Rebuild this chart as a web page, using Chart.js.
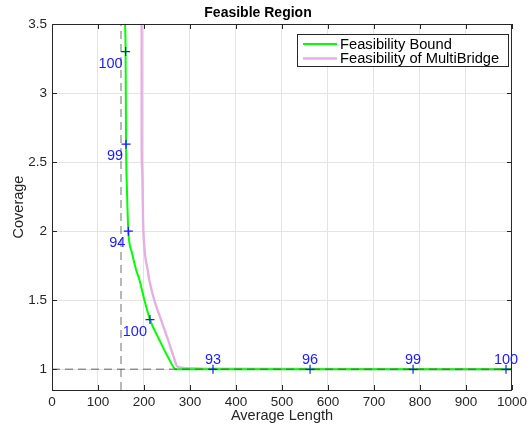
<!DOCTYPE html>
<html>
<head>
<meta charset="utf-8">
<script src="https://cdn.jsdelivr.net/npm/chart.js@4"></script>
<style>
  html, body { margin: 0; padding: 0; background: #ffffff; }
  canvas { display: block; }
</style>
</head>
<body>
<canvas id="c" width="531" height="429"></canvas>
<script>
// ---------------- data ----------------
const chartTitle = 'Feasible Region';
const xAxisTitle = 'Average Length';
const yAxisTitle = 'Coverage';
const seriesNames = ['Feasibility Bound', 'Feasibility of MultiBridge'];

const xTickValues = [0, 100, 200, 300, 400, 500, 600, 700, 800, 900, 1000];
const yTickValues = [1, 1.5, 2, 2.5, 3, 3.5];
const xRange = [0, 1000];
const yRange = [0.85, 3.5];

const boundLength   = [158.5, 159, 160, 161, 163, 166, 174, 182.7, 190, 200.6, 213, 233, 251, 270, 1000];
const boundCoverage = [3.6, 3.5, 3.3, 2.63, 2.3, 2.0, 1.842, 1.722, 1.649, 1.505, 1.36, 1.216, 1.096, 1.0, 1.0];

const multiLength   = [194.8, 195, 196, 197, 198, 202, 208, 211.4, 222, 236.7, 252, 264, 272.5, 300, 350, 1000];
const multiCoverage = [3.6, 2.6, 2.45, 2.3, 2.08, 1.842, 1.72, 1.649, 1.505, 1.361, 1.216, 1.096, 1.02, 1.008, 1.004, 1.0];

const markerLength   = [160, 161, 166, 213, 350, 561, 785, 987];
const markerCoverage = [3.3, 2.63, 2.0, 1.36, 1, 1, 1, 1];
const markerLabels   = ['100', '99', '94', '100', '93', '96', '99', '100'];

const thresholdLength = 150;
const thresholdCoverage = 1;

// ---------------- helpers ----------------
const pts = (xs, ys) => xs.map((x, i) => ({ x: x, y: ys[i] }));
const FONT = '"Liberation Sans", Arial, Helvetica, sans-serif';
const AXIS_COLOR = '#262626';
const GREEN = '#00ff00';
const PINK = 'rgb(228,176,226)';
const BLUE = '#1a1aff';
const DASH = 'rgba(70,70,70,0.55)';

const decorPlugin = {
  id: 'decor',
  afterDatasetsDraw(chart) {
    const ctx = chart.ctx;
    const xs = chart.scales.x, ys = chart.scales.y;
    const a = chart.chartArea;
    ctx.save();
    // top & right border
    ctx.strokeStyle = AXIS_COLOR;
    ctx.lineWidth = 1;
    ctx.beginPath();
    ctx.moveTo(a.left, a.top + 0.5); ctx.lineTo(a.right, a.top + 0.5);
    ctx.moveTo(a.right - 0.5, a.top); ctx.lineTo(a.right - 0.5, a.bottom);
    ctx.stroke();
    // inward ticks
    ctx.beginPath();
    xs.ticks.forEach(t => {
      const px = Math.round(xs.getPixelForValue(t.value)) + 0.5;
      ctx.moveTo(px, a.bottom); ctx.lineTo(px, a.bottom - 5);
      ctx.moveTo(px, a.top); ctx.lineTo(px, a.top + 5);
    });
    ys.ticks.forEach(t => {
      const py = Math.round(ys.getPixelForValue(t.value)) + 0.5;
      ctx.moveTo(a.left, py); ctx.lineTo(a.left + 5, py);
      ctx.moveTo(a.right, py); ctx.lineTo(a.right - 5, py);
    });
    ctx.stroke();

    // marker labels
    ctx.fillStyle = BLUE;
    ctx.font = '14.5px ' + FONT;
    markerLabels.forEach((lab, i) => {
      const px = xs.getPixelForValue(markerLength[i]);
      const py = ys.getPixelForValue(markerCoverage[i]);
      ctx.textBaseline = 'alphabetic';
      if (markerCoverage[i] === thresholdCoverage) {
        ctx.textAlign = 'center';
        ctx.fillText(lab, px, py - 5);
      } else {
        ctx.textAlign = 'right';
        ctx.fillText(lab, px - 3, py + 16);
      }
    });

    // legend
    const lx = 297, ly = 34, lw = 212, lh = 33;
    ctx.fillStyle = '#ffffff';
    ctx.fillRect(lx, ly, lw, lh);
    ctx.strokeStyle = AXIS_COLOR;
    ctx.lineWidth = 1;
    ctx.strokeRect(lx + 0.5, ly + 0.5, lw - 1, lh - 1);
    [0, 1].forEach(r => {
      const ds = chart.data.datasets[r];
      const yy = ly + 10 + r * 14.5;
      ctx.strokeStyle = ds.borderColor;
      ctx.lineWidth = ds.borderWidth;
      ctx.beginPath();
      ctx.moveTo(303, yy); ctx.lineTo(337, yy);
      ctx.stroke();
      ctx.fillStyle = '#000000';
      ctx.font = '14.7px ' + FONT;
      ctx.textAlign = 'left';
      ctx.textBaseline = 'middle';
      ctx.fillText(ds.label, 340, yy + 0.5);
    });
    ctx.restore();
  }
};

const plainNumber = v => String(Math.round(v * 100) / 100);

const cfg = {
  type: 'line',
  data: {
    datasets: [
      {
        label: seriesNames[0],
        data: pts(boundLength, boundCoverage),
        borderColor: GREEN, borderWidth: 2, pointRadius: 0,
        cubicInterpolationMode: 'monotone',
        fill: false, clip: 0, order: 2
      },
      {
        label: seriesNames[1],
        data: pts(multiLength, multiCoverage),
        borderColor: PINK, borderWidth: 2.4, pointRadius: 0,
        cubicInterpolationMode: 'monotone',
        fill: false, clip: 0, order: 3
      },
      {
        label: 'threshold length',
        data: pts([thresholdLength, thresholdLength], yRange),
        borderColor: DASH, borderWidth: 1.4, borderDash: [8, 5], pointRadius: 0,
        fill: false, clip: 0, order: 1
      },
      {
        label: 'threshold coverage',
        data: pts(xRange, [thresholdCoverage, thresholdCoverage]),
        borderColor: DASH, borderWidth: 1.4, borderDash: [8, 5], pointRadius: 0,
        fill: false, clip: 0, order: 1
      },
      {
        label: 'markers',
        data: pts(markerLength, markerCoverage),
        showLine: false, pointStyle: 'cross', pointRadius: 4.5,
        borderColor: BLUE, backgroundColor: BLUE, pointBorderWidth: 1.2,
        clip: false, order: 0
      }
    ]
  },
  options: {
    responsive: false,
    animation: false,
    devicePixelRatio: 1,
    layout: { padding: { top: 0, right: 15, left: 0, bottom: 0 } },
    plugins: {
      legend: { display: false },
      tooltip: { enabled: false },
      title: {
        display: true, text: chartTitle, color: '#000000',
        font: { family: FONT, size: 14, weight: 'bold' },
        padding: { top: 5, bottom: 2.2 }
      }
    },
    scales: {
      x: {
        type: 'linear', min: xRange[0], max: xRange[1],
        afterBuildTicks: s => { s.ticks = xTickValues.map(v => ({ value: v })); },
        afterFit: s => { s.height = 39; },
        ticks: { color: AXIS_COLOR, font: { family: FONT, size: 13.5 }, padding: 4,
                 maxRotation: 0, autoSkip: false, callback: plainNumber },
        grid: { color: '#e4e4e4', lineWidth: 1, drawTicks: false },
        border: { display: true, color: AXIS_COLOR, width: 1 },
        title: { display: true, text: xAxisTitle, color: AXIS_COLOR,
                 font: { family: FONT, size: 14.5 }, padding: { top: 0, bottom: 4 } }
      },
      y: {
        type: 'linear', min: yRange[0], max: yRange[1],
        afterBuildTicks: s => { s.ticks = yTickValues.map(v => ({ value: v })); },
        afterFit: s => { s.width = 52; },
        ticks: { color: AXIS_COLOR, font: { family: FONT, size: 13.5 }, padding: 5,
                 callback: plainNumber },
        grid: { color: '#e4e4e4', lineWidth: 1, drawTicks: false },
        border: { display: true, color: AXIS_COLOR, width: 1 },
        title: { display: true, text: yAxisTitle, color: AXIS_COLOR,
                 font: { family: FONT, size: 14.5 }, padding: { top: 10, bottom: 0 } }
      }
    }
  },
  plugins: [decorPlugin]
};

new Chart(document.getElementById('c'), cfg);
</script>
</body>
</html>
